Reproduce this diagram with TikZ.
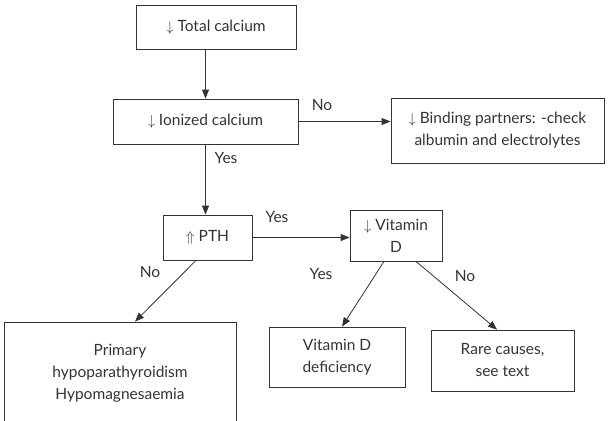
\documentclass[tikz,border=0pt]{standalone}
\usepackage{fontspec}
\usepackage{amsmath}
\setmainfont{Lato}
\usetikzlibrary{arrows.meta}
\definecolor{flowGrey}{RGB}{51,51,51}

\begin{document}
\begin{tikzpicture}[x=1pt, y=-1pt,
    font=\fontsize{15.5}{22}\selectfont,
    >={Triangle[length=9pt,width=7pt]},
    box/.style={draw=flowGrey, line width=0.8pt, text=flowGrey, align=center, inner sep=0pt},
    link/.style={->, draw=flowGrey, line width=0.8pt},
    tag/.style={text=flowGrey, inner sep=0pt}]
    \useasboundingbox (0,0) rectangle (609,420);

    % Boxes
    \node[box, minimum width=160pt, minimum height=44pt] (total) at (216,27) {\(\downarrow\) Total calcium};
    \node[box, minimum width=185pt, minimum height=45pt] (ionized) at (205.5,121.5) {\(\downarrow\) Ionized calcium};
    \node[box, minimum width=213pt, minimum height=65pt] (binding) at (497.5,130.5) {\(\downarrow\) Binding partners: -check\\albumin and electrolytes};
    \node[box, minimum width=89pt, minimum height=45pt] (pth) at (207.5,237.5) {\(\Uparrow\) PTH};
    \node[box, minimum width=92pt, minimum height=51pt] (vitd) at (396,235.5) {\(\downarrow\) Vitamin\\D};
    \node[box, minimum width=232pt, minimum height=102pt] (primary) at (120,373) {Primary\\hypoparathyroidism\\Hypomagnesaemia};
    \node[box, minimum width=136pt, minimum height=60pt] (vitdef) at (337,357) {Vitamin D\\deficiency};
    \node[box, minimum width=143pt, minimum height=61pt] (rare) at (502.5,360.5) {Rare causes,\\see text};

    % Arrows
    \draw[link] (ionized.north |- total.south) -- (ionized.north);
    \draw[link] (ionized.east) -- (ionized.east -| binding.west);
    \draw[link] (ionized.south) -- (ionized.south |- pth.north);
    \draw[link] (pth.east) -- (pth.east -| vitd.west);
    \draw[link] ([xshift=-11.5pt]pth.south) -- ([xshift=15pt]primary.north);
    \draw[link] ([xshift=-12pt]vitd.south) -- ([xshift=5pt]vitdef.north);
    \draw[link] ([xshift=20pt]vitd.south) -- ([xshift=-5.5pt]rare.north);

    % Labels
    \node[tag] (noBinding) at (322,105) {No};
    \node[tag] (yesPth) at (226,158) {Yes};
    \node[tag] (yesVitd) at (277,217) {Yes};
    \node[tag] (noPrimary) at (150,272) {No};
    \node[tag] (yesDef) at (321,274) {Yes};
    \node[tag] (noRare) at (465,276) {No};
\end{tikzpicture}
\end{document}
